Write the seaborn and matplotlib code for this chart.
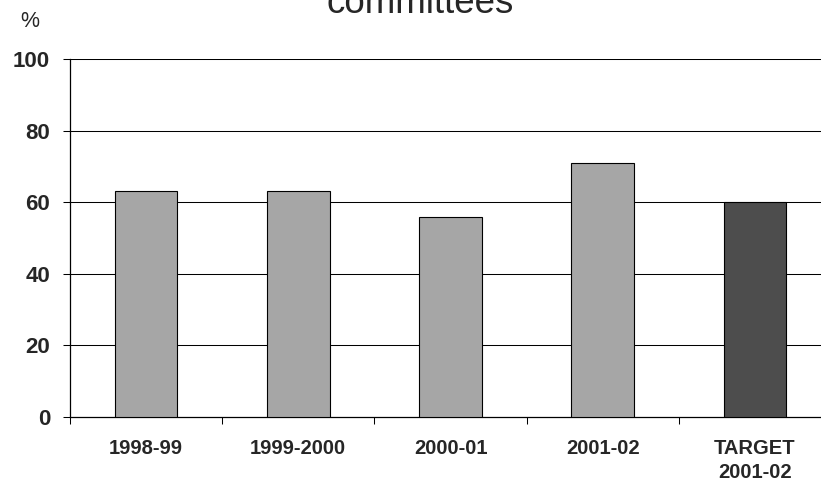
import matplotlib
matplotlib.use("Agg")
import matplotlib.pyplot as plt
import seaborn as sns
import pandas as pd

categories = ["1998-99", "1999-2000", "2000-01", "2001-02", "TARGET\n2001-02"]
values = [63, 63, 56, 71, 60]
bar_colors = ["#a6a6a6", "#a6a6a6", "#a6a6a6", "#a6a6a6", "#4d4d4d"]
y_ticks = [0, 20, 40, 60, 80, 100]

sns.set_theme(style="white")
plt.rcParams["font.family"] = ["Liberation Sans", "DejaVu Sans"]

df = pd.DataFrame({"period": categories, "pct": values})

fig = plt.figure(figsize=(8.21, 4.82), dpi=100)
# axes run slightly past the right edge of the figure
ax = fig.add_axes([70 / 821, 1 - 417 / 482, 761 / 821, 358 / 482])

sns.barplot(data=df, x="period", y="pct", hue="period", palette=bar_colors,
            legend=False, width=0.41, edgecolor="black", linewidth=0.8,
            saturation=1, ax=ax, zorder=3)

ax.set_ylim(0, 100)
ax.set_xlim(-0.5, 4.5)
ax.set_yticks(y_ticks)
ax.set_yticklabels([str(t) for t in y_ticks], fontsize=16, fontweight="bold")
for t in y_ticks[1:]:
    ax.axhline(t, color="black", linewidth=0.75, zorder=1)

ax.set_xticks([0, 1, 2, 3, 4])
ax.set_xticklabels(categories, fontsize=14.5, fontweight="bold", linespacing=1.3)
ax.set_xticks([-0.5, 0.5, 1.5, 2.5, 3.5], minor=True)
ax.tick_params(axis="x", which="major", length=0, pad=16)
ax.tick_params(axis="x", which="minor", length=5, width=0.75, color="black", direction="out", bottom=True)
ax.tick_params(axis="y", length=5, width=0.75, color="black", direction="out", left=True, pad=9.4)

for side in ["top", "right"]:
    ax.spines[side].set_visible(False)
for side in ["left", "bottom"]:
    ax.spines[side].set_color("black")
    ax.spines[side].set_linewidth(0.9)

ax.set_xlabel("")
ax.set_ylabel("")

fig.text(0.512, 1 - 13 / 482, "committees", fontsize=26.5, ha="center", va="baseline")
fig.text(29.5 / 821, 1 - 27 / 482, "%", fontsize=15.5, ha="center", va="baseline")

fig.savefig("out.png", dpi=100)
